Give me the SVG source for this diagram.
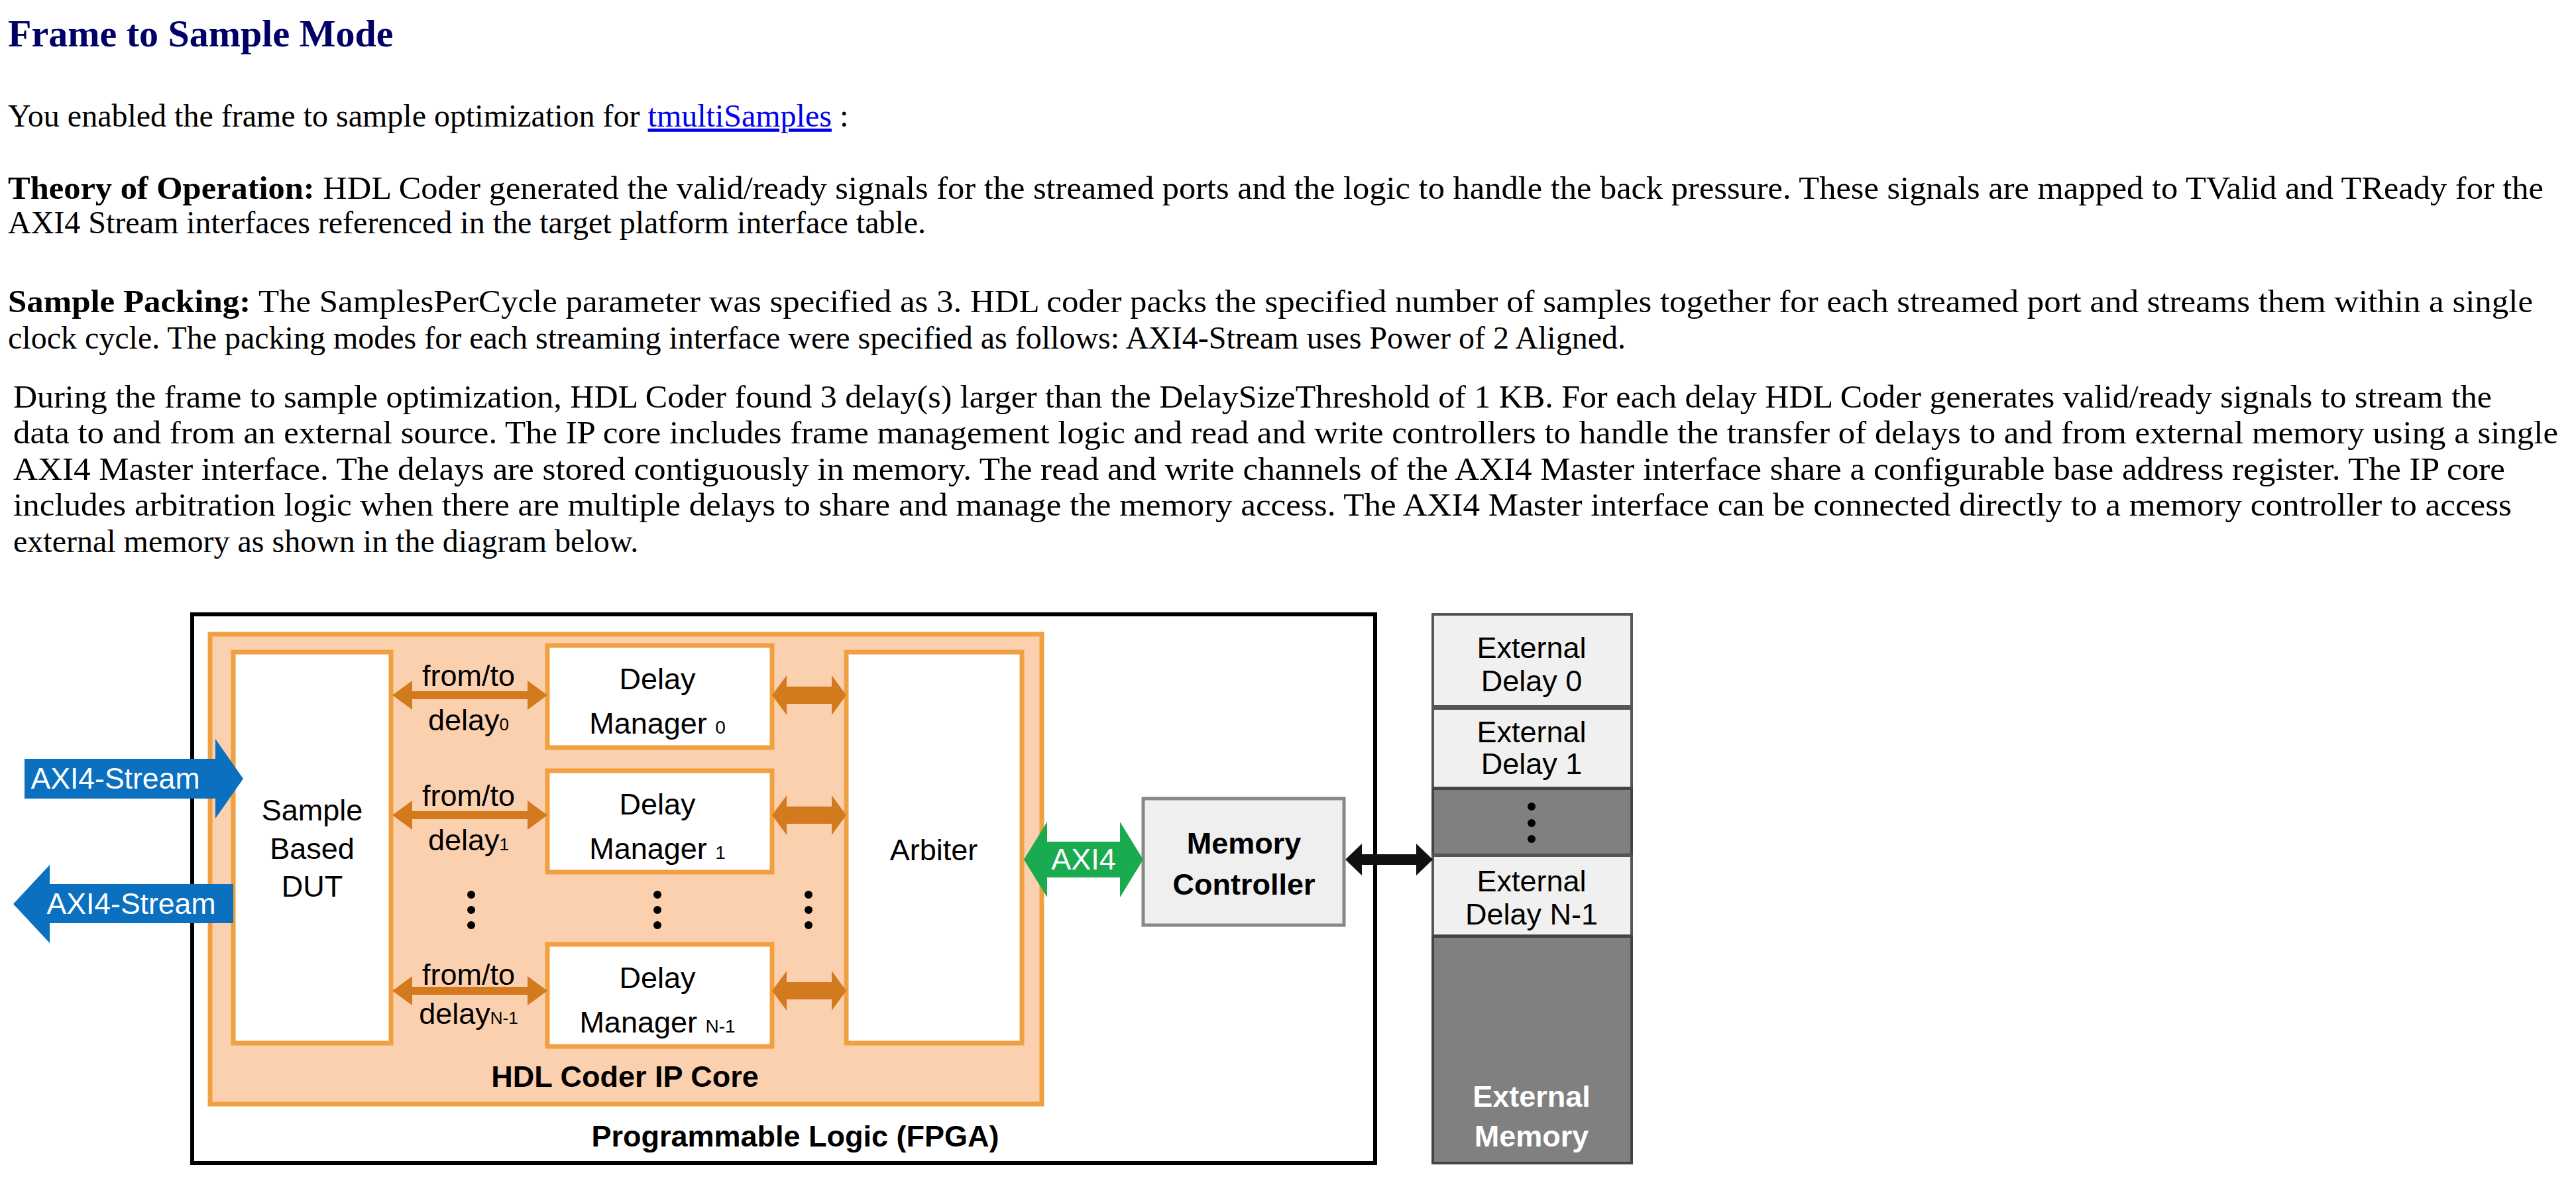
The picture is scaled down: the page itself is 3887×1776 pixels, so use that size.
<svg xmlns="http://www.w3.org/2000/svg" width="3887" height="1776" viewBox="0 0 3887 1776">
<style>
.p{font-family:"Liberation Serif",serif;font-size:48px;fill:#000}
.b{font-weight:bold}
.s{font-family:"Liberation Sans",Arial,sans-serif;font-size:45px;fill:#000;text-anchor:middle}
.w{fill:#fff}
.blk{fill:#fff;stroke:#f0a040;stroke-width:7}
.cell{fill:#f0f0f0;stroke:#555;stroke-width:4}
.dark{fill:#808080;stroke:#444;stroke-width:4}
.or{fill:#d37a1e}
.dot{fill:#000}
</style>
<rect width="3887" height="1776" fill="#fff"/>
<g id="text">
<text x="12" y="70" style="font-family:'Liberation Serif',serif;font-size:58px;font-weight:bold;fill:#000066">Frame to Sample Mode</text>
<text class="p" x="12" y="191">You enabled the frame to sample optimization for <tspan fill="#0000ee" text-decoration="underline">tmultiSamples</tspan> :</text>
<text class="p" x="12" y="300" textLength="3826" lengthAdjust="spacingAndGlyphs"><tspan class="b">Theory of Operation:</tspan> HDL Coder generated the valid/ready signals for the streamed ports and the logic to handle the back pressure. These signals are mapped to TValid and TReady for the</text>
<text class="p" x="12" y="352">AXI4 Stream interfaces referenced in the target platform interface table.</text>
<text class="p" x="12" y="471" textLength="3810" lengthAdjust="spacingAndGlyphs"><tspan class="b">Sample Packing:</tspan> The SamplesPerCycle parameter was specified as 3. HDL coder packs the specified number of samples together for each streamed port and streams them within a single</text>
<text class="p" x="12" y="526">clock cycle. The packing modes for each streaming interface were specified as follows: AXI4-Stream uses Power of 2 Aligned.</text>
<text class="p" x="20" y="615" textLength="3740" lengthAdjust="spacingAndGlyphs">During the frame to sample optimization, HDL Coder found 3 delay(s) larger than the DelaySizeThreshold of 1 KB. For each delay HDL Coder generates valid/ready signals to stream the</text>
<text class="p" x="20" y="669" textLength="3840" lengthAdjust="spacingAndGlyphs">data to and from an external source. The IP core includes frame management logic and read and write controllers to handle the transfer of delays to and from external memory using a single</text>
<text class="p" x="20" y="724" textLength="3760" lengthAdjust="spacingAndGlyphs">AXI4 Master interface. The delays are stored contiguously in memory. The read and write channels of the AXI4 Master interface share a configurable base address register. The IP core</text>
<text class="p" x="20" y="778" textLength="3770" lengthAdjust="spacingAndGlyphs">includes arbitration logic when there are multiple delays to share and manage the memory access. The AXI4 Master interface can be connected directly to a memory controller to access</text>
<text class="p" x="20" y="833">external memory as shown in the diagram below.</text>
</g>
<g id="fpga">
<rect x="290" y="927" width="1785" height="828" fill="#fff" stroke="#000" stroke-width="6"/>
<text class="s b" x="1200" y="1730">Programmable Logic (FPGA)</text>
</g>
<g id="ipcore">
<rect x="317" y="957" width="1255" height="709" fill="#fbd0ae" stroke="#f0a040" stroke-width="7"/>
<text class="s b" x="943" y="1640">HDL Coder IP Core</text>
</g>
<g id="dut">
<rect class="blk" x="352" y="984" width="238" height="590"/>
<text class="s" x="471" y="1238">Sample</text>
<text class="s" x="471" y="1296">Based</text>
<text class="s" x="471" y="1353">DUT</text>
</g>
<g id="dm0">
<rect class="blk" x="826" y="974" width="339" height="154"/>
<text class="s" x="992" y="1040">Delay</text>
<text class="s" x="992" y="1107">Manager <tspan font-size="28">0</tspan></text>
</g>
<g id="dm1">
<rect class="blk" x="826" y="1163" width="339" height="153"/>
<text class="s" x="992" y="1229">Delay</text>
<text class="s" x="992" y="1296">Manager <tspan font-size="28">1</tspan></text>
</g>
<g id="dmN">
<rect class="blk" x="826" y="1425" width="339" height="154"/>
<text class="s" x="992" y="1491">Delay</text>
<text class="s" x="992" y="1558">Manager <tspan font-size="28">N-1</tspan></text>
</g>
<g id="arbiter">
<rect class="blk" x="1277" y="984" width="265" height="590"/>
<text class="s" x="1409" y="1298">Arbiter</text>
</g>
<g id="memctrl">
<rect x="1725" y="1205" width="303" height="191" fill="#efefef" stroke="#888" stroke-width="5"/>
<text class="s b" x="1877" y="1288">Memory</text>
<text class="s b" x="1877" y="1350">Controller</text>
</g>
<g id="extmem">
<rect class="cell" x="2162" y="927" width="300" height="139"/>
<text class="s" x="2311" y="993" font-size="40">External</text>
<text class="s" x="2311" y="1043" font-size="40">Delay 0</text>
<rect class="cell" x="2162" y="1069" width="300" height="120"/>
<text class="s" x="2311" y="1120" font-size="40">External</text>
<text class="s" x="2311" y="1168" font-size="40">Delay 1</text>
<rect class="dark" x="2162" y="1190" width="300" height="100"/>
<circle class="dot" cx="2311" cy="1217" r="6"/><circle class="dot" cx="2311" cy="1242" r="6"/><circle class="dot" cx="2311" cy="1266" r="6"/>
<rect class="cell" x="2162" y="1291" width="300" height="121"/>
<text class="s" x="2311" y="1345" font-size="40">External</text>
<text class="s" x="2311" y="1395" font-size="40">Delay N-1</text>
<rect class="dark" x="2162" y="1413" width="300" height="342"/>
<text class="s b w" x="2311" y="1670">External</text>
<text class="s b w" x="2311" y="1730">Memory</text>
</g>
<g id="connectors">
<polygon points="37,1145 325,1145 325,1115 367,1175 325,1235 325,1205 37,1205" fill="#0b70c0"/>
<text class="s w" x="174" y="1190" font-size="38" textLength="255" lengthAdjust="spacingAndGlyphs">AXI4-Stream</text>
<polygon points="352,1334 75,1334 75,1305 20,1364 75,1423 75,1393 352,1393" fill="#0b70c0"/>
<text class="s w" x="198" y="1379" font-size="38" textLength="255" lengthAdjust="spacingAndGlyphs">AXI4-Stream</text>
<g class="or">
<polygon points="592,1049 622,1027 622,1043 796,1043 796,1027 826,1049 796,1071 796,1055 622,1055 622,1071"/>
<polygon points="592,1230 622,1208 622,1224 796,1224 796,1208 826,1230 796,1252 796,1236 622,1236 622,1252"/>
<polygon points="592,1495 622,1473 622,1489 796,1489 796,1473 826,1495 796,1517 796,1501 622,1501 622,1517"/>
<polygon points="1165,1049 1187,1019 1187,1036 1255,1036 1255,1019 1277,1049 1255,1079 1255,1062 1187,1062 1187,1079"/>
<polygon points="1165,1230 1187,1200 1187,1217 1255,1217 1255,1200 1277,1230 1255,1260 1255,1243 1187,1243 1187,1260"/>
<polygon points="1165,1495 1187,1465 1187,1482 1255,1482 1255,1465 1277,1495 1255,1525 1255,1508 1187,1508 1187,1525"/>
</g>
<text class="s" x="707" y="1035" font-size="40">from/to</text>
<text class="s" x="707" y="1102" font-size="40">delay<tspan font-size="26">0</tspan></text>
<text class="s" x="707" y="1216" font-size="40">from/to</text>
<text class="s" x="707" y="1283" font-size="40">delay<tspan font-size="26">1</tspan></text>
<text class="s" x="707" y="1486" font-size="40">from/to</text>
<text class="s" x="707" y="1545" font-size="40">delay<tspan font-size="26">N-1</tspan></text>
<g class="dot">
<circle cx="711" cy="1350" r="6"/><circle cx="711" cy="1373" r="6"/><circle cx="711" cy="1396" r="6"/>
<circle cx="992" cy="1350" r="6"/><circle cx="992" cy="1373" r="6"/><circle cx="992" cy="1396" r="6"/>
<circle cx="1220" cy="1350" r="6"/><circle cx="1220" cy="1373" r="6"/><circle cx="1220" cy="1396" r="6"/>
</g>
<polygon points="1545,1297 1580,1240 1580,1270 1690,1270 1690,1240 1725,1297 1690,1354 1690,1324 1580,1324 1580,1354" fill="#1aaa50"/>
<text class="s w" x="1635" y="1312" font-size="38">AXI4</text>
<polygon points="2030,1297 2055,1273 2055,1289 2137,1289 2137,1273 2162,1297 2137,1321 2137,1305 2055,1305 2055,1321" fill="#111"/>
</g>
</svg>
